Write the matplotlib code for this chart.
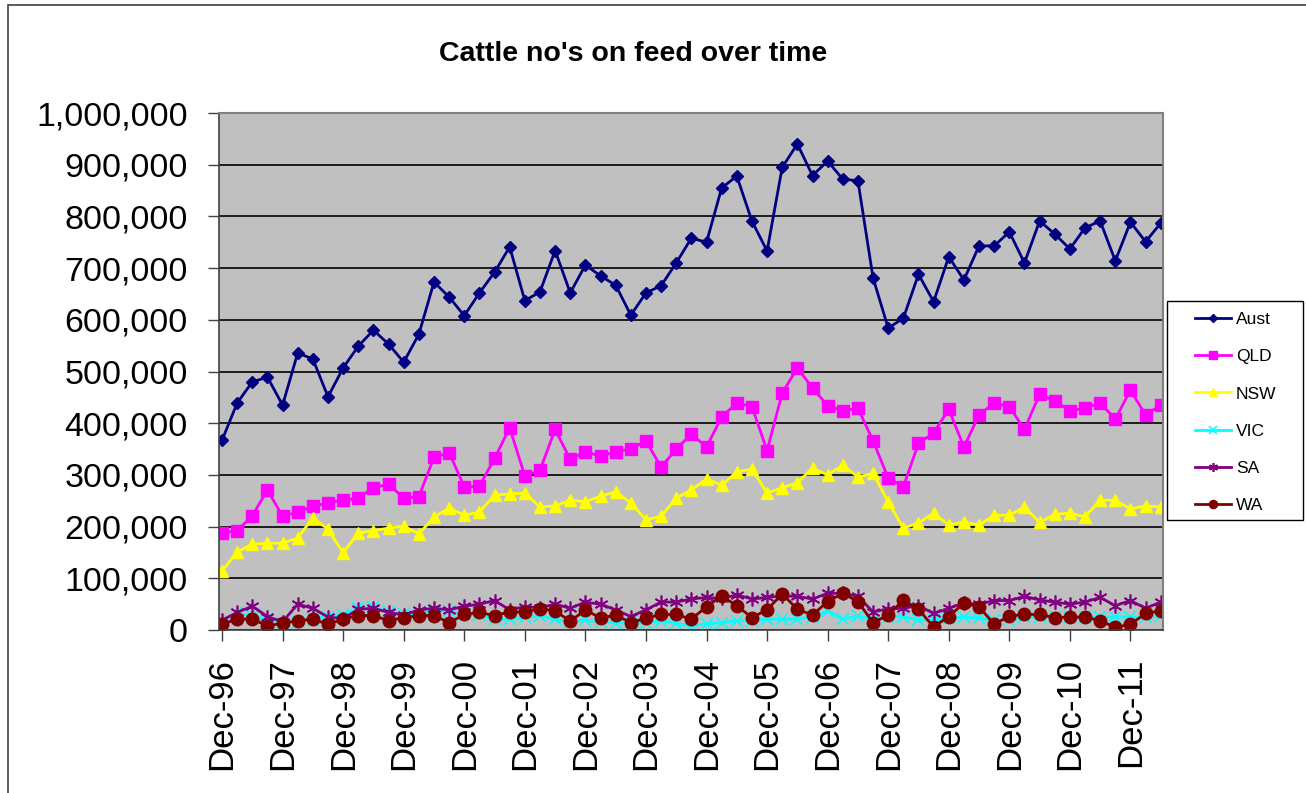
import matplotlib.pyplot as plt
import numpy as np
from matplotlib.ticker import FuncFormatter, FixedLocator
from matplotlib.patches import Rectangle

plt.rcParams['font.family'] = ['Liberation Sans', 'DejaVu Sans']

# quarterly, Dec-96 .. Jun-12
aust = [367, 439, 480, 489, 435, 536, 524, 451, 507, 549, 580, 553, 518, 572, 673, 644,
        608, 652, 692, 741, 637, 654, 734, 652, 706, 685, 667, 609, 652, 666, 710, 758,
        750, 855, 878, 791, 733, 895, 940, 879, 907, 872, 869, 681, 584, 603, 688, 635,
        722, 677, 743, 743, 770, 710, 791, 766, 737, 778, 791, 714, 789, 751, 787]
qld = [188, 192, 221, 271, 220, 228, 239, 246, 251, 255, 275, 282, 255, 258, 334, 343,
       277, 278, 332, 391, 298, 309, 388, 330, 345, 336, 345, 350, 366, 315, 350, 379,
       354, 412, 439, 432, 347, 458, 507, 468, 434, 424, 429, 366, 294, 277, 361, 381,
       427, 354, 416, 439, 432, 388, 456, 443, 424, 429, 439, 408, 464, 416, 435]
nsw = [114, 151, 166, 168, 168, 178, 217, 195, 149, 188, 192, 197, 201, 186, 218, 236,
       222, 228, 261, 263, 265, 238, 240, 251, 248, 259, 267, 246, 213, 220, 255, 271,
       292, 280, 306, 311, 265, 275, 285, 313, 300, 319, 296, 303, 248, 197, 207, 226,
       203, 209, 203, 222, 222, 238, 208, 224, 226, 219, 251, 251, 234, 240, 238]
vic = [5, 32, 27, 21, 14, 16, 21, 26, 29, 42, 44, 35, 31, 32, 37, 37,
       30, 29, 21, 21, 25, 27, 21, 16, 19, 16, 14, 13, 14, 18, 13, 8,
       12, 14, 18, 18, 21, 21, 21, 25, 37, 21, 27, 21, 25, 26, 19, 19,
       23, 25, 23, 19, 19, 25, 25, 25, 25, 25, 25, 25, 25, 25, 27]
sa = [19, 34, 46, 26, 16, 50, 42, 25, 22, 40, 42, 34, 29, 39, 42, 39,
      46, 50, 57, 39, 45, 43, 50, 42, 54, 50, 39, 26, 39, 54, 54, 60,
      63, 61, 68, 60, 63, 66, 65, 60, 71, 71, 65, 35, 41, 42, 47, 32,
      42, 52, 50, 57, 57, 65, 58, 54, 50, 54, 63, 47, 57, 42, 54]
wa = [11, 21, 21, 8, 13, 18, 21, 11, 21, 28, 28, 18, 24, 28, 28, 14,
      30, 34, 28, 35, 35, 41, 37, 17, 39, 23, 29, 14, 23, 30, 30, 21,
      45, 66, 47, 24, 39, 70, 40, 29, 55, 71, 55, 14, 29, 58, 40, 6,
      26, 52, 45, 11, 27, 30, 30, 24, 25, 25, 18, 5, 11, 32, 37]

tick_labels = ['Dec-%02d' % (y % 100) for y in range(96, 112)]

series = [
    ('Aust', aust, '#000080', 'D', 6, 'none'),
    ('QLD', qld, '#FF00FF', 's', 9, 'none'),
    ('NSW', nsw, '#FFFF00', '^', 9, 'none'),
    ('VIC', vic, '#00FFFF', 'x', 8, None),
    ('SA', sa, '#800080', (6, 2, 0), 10, None),
    ('WA', wa, '#800000', 'o', 9, 'none'),
]

W, H = 1306, 793
fig = plt.figure(figsize=(W / 100, H / 100), dpi=100)
ax = fig.add_axes([219 / W, 1 - 630 / H, (1163 - 219) / W, (630 - 113) / H])
ax.set_facecolor('#C0C0C0')

x = np.arange(len(aust))
for name, vals, col, mk, ms, mec in series:
    kw = dict(color=col, marker=mk, markersize=ms, linewidth=2, label=name)
    if mec == 'none':
        kw['markeredgecolor'] = col
    else:
        kw['markeredgewidth'] = 1.2
    ax.plot(x, np.array(vals) * 1000, **kw)

ax.set_xlim(-0.2, len(aust) - 1 + 0.15)
ax.set_ylim(0, 1000000)
ax.set_yticks(np.arange(0, 1000001, 100000))
ax.yaxis.set_major_formatter(FuncFormatter(lambda v, p: '{:,.0f}'.format(v)))
ax.grid(axis='y', color='black', linewidth=1.2)
ax.set_axisbelow(True)

ax.xaxis.set_major_locator(FixedLocator(np.arange(0, len(aust), 4)))
ax.set_xticklabels(tick_labels, rotation=90)
ax.tick_params(axis='x', labelsize=25, length=8, width=1, color='#404040', pad=12)
ax.tick_params(axis='y', labelsize=24.5, length=8, width=1, color='#404040', pad=14.5)

for side in ['top', 'right']:
    ax.spines[side].set_color('#808080')
    ax.spines[side].set_linewidth(1.5)
for side in ['left', 'bottom']:
    ax.spines[side].set_color('#404040')
    ax.spines[side].set_linewidth(1.2)

fig.text(633 / W, 1 - 54 / H, "Cattle no's on feed over time", ha='center', va='center',
         fontsize=20.5, fontweight='bold')

# legend frame drawn separately so the box matches the original size
fig.patches.append(Rectangle((1167 / W, 1 - 520 / H), (1303 - 1167) / W, (520 - 301) / H,
                             transform=fig.transFigure, facecolor='white',
                             edgecolor='black', linewidth=1, zorder=5))
leg = fig.legend(loc='upper left', bbox_to_anchor=(1195 / W, 1 - 312 / H),
                 fontsize=12.5, frameon=False, labelspacing=1.27, handlelength=2.1,
                 handletextpad=0.25, borderpad=0, markerscale=0.65, borderaxespad=0)
leg.set_zorder(6)

fig.patches.append(Rectangle((8 / W, -0.1), 1.2, 1 - 5 / H + 0.1, transform=fig.transFigure,
                             fill=False, edgecolor='#404040', linewidth=1.2))

fig.savefig('out.png', dpi=100)
